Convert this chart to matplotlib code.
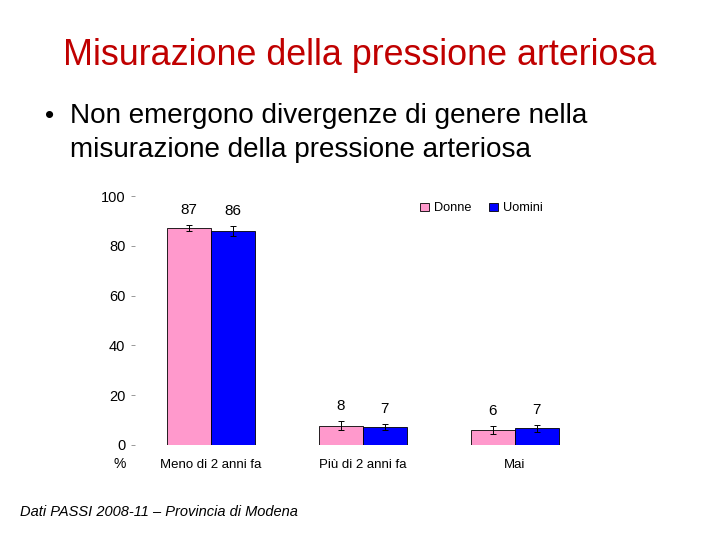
import matplotlib
matplotlib.use('Agg')
from matplotlib import pyplot as plt
import numpy as np

plt.rcParams['font.family'] = ['Liberation Sans', 'DejaVu Sans']

categories = ['Meno di 2 anni fa', 'Più di 2 anni fa', 'Mai']
donne = [87, 7.8, 6.0]
uomini = [86, 7.2, 6.8]
donne_err = [1.2, 1.8, 1.5]
uomini_err = [2.0, 1.3, 1.4]
donne_lbl = ['87', '8', '6']
uomini_lbl = ['86', '7', '7']

fig = plt.figure(figsize=(7.2, 5.4), dpi=100)

fig.text(0.5, 0.897, 'Misurazione della pressione arteriosa', color='#C00000',
         fontsize=25.8, ha='center', va='center')
fig.text(0.062, 0.785, '\u2022', fontsize=19, ha='left', va='center')
fig.text(0.097, 0.785, 'Non emergono divergenze di genere nella',
         fontsize=20.1, ha='left', va='center')
fig.text(0.097, 0.722, 'misurazione della pressione arteriosa',
         fontsize=20.1, ha='left', va='center')
fig.text(0.028, 0.052, 'Dati PASSI 2008-11 \u2013 Provincia di Modena',
         fontsize=10.5, style='italic', ha='left', va='center')

ax = fig.add_axes([0.1875, 0.176, 0.633, 0.461])
x = np.arange(len(categories))
w = 0.29
ax.bar(x - w / 2, donne, w, color='#FF99CC', edgecolor='black', linewidth=0.6,
       label='Donne')
ax.bar(x + w / 2, uomini, w, color='#0000FF', edgecolor='black', linewidth=0.6,
       label='Uomini')
ax.errorbar(x - w / 2, donne, yerr=donne_err, fmt='none', ecolor='black',
            elinewidth=0.7, capsize=2.5, capthick=0.7)
ax.errorbar(x + w / 2, uomini, yerr=uomini_err, fmt='none', ecolor='black',
            elinewidth=0.7, capsize=2.5, capthick=0.7)

for i in range(len(categories)):
    ax.text(x[i] - w / 2, donne[i] + donne_err[i] + 6, donne_lbl[i],
            ha='center', va='center', fontsize=11)
    ax.text(x[i] + w / 2, uomini[i] + uomini_err[i] + 6, uomini_lbl[i],
            ha='center', va='center', fontsize=11)

ax.set_xlim(-0.5, 2.5)
ax.set_ylim(0, 100)
ax.set_yticks([0, 20, 40, 60, 80, 100])
ax.set_yticklabels(['0', '20', '40', '60', '80', '100'], fontsize=10.5)
ax.set_xticks(x)
ax.set_xticklabels(categories, fontsize=9.5)
ax.tick_params(axis='x', length=0, pad=10)
ax.tick_params(axis='y', length=3, width=0.6, color='#888888', pad=4)
for s in ax.spines.values():
    s.set_visible(False)
ax.text(-0.033, -0.075, '%', transform=ax.transAxes, fontsize=10,
        ha='center', va='center')

ax.legend(loc='center left', bbox_to_anchor=(0.6, 0.95), ncol=2, frameon=False,
          fontsize=9.2, handlelength=0.7, handleheight=0.7, handletextpad=0.4,
          columnspacing=1.4)

plt.savefig('out.png')
